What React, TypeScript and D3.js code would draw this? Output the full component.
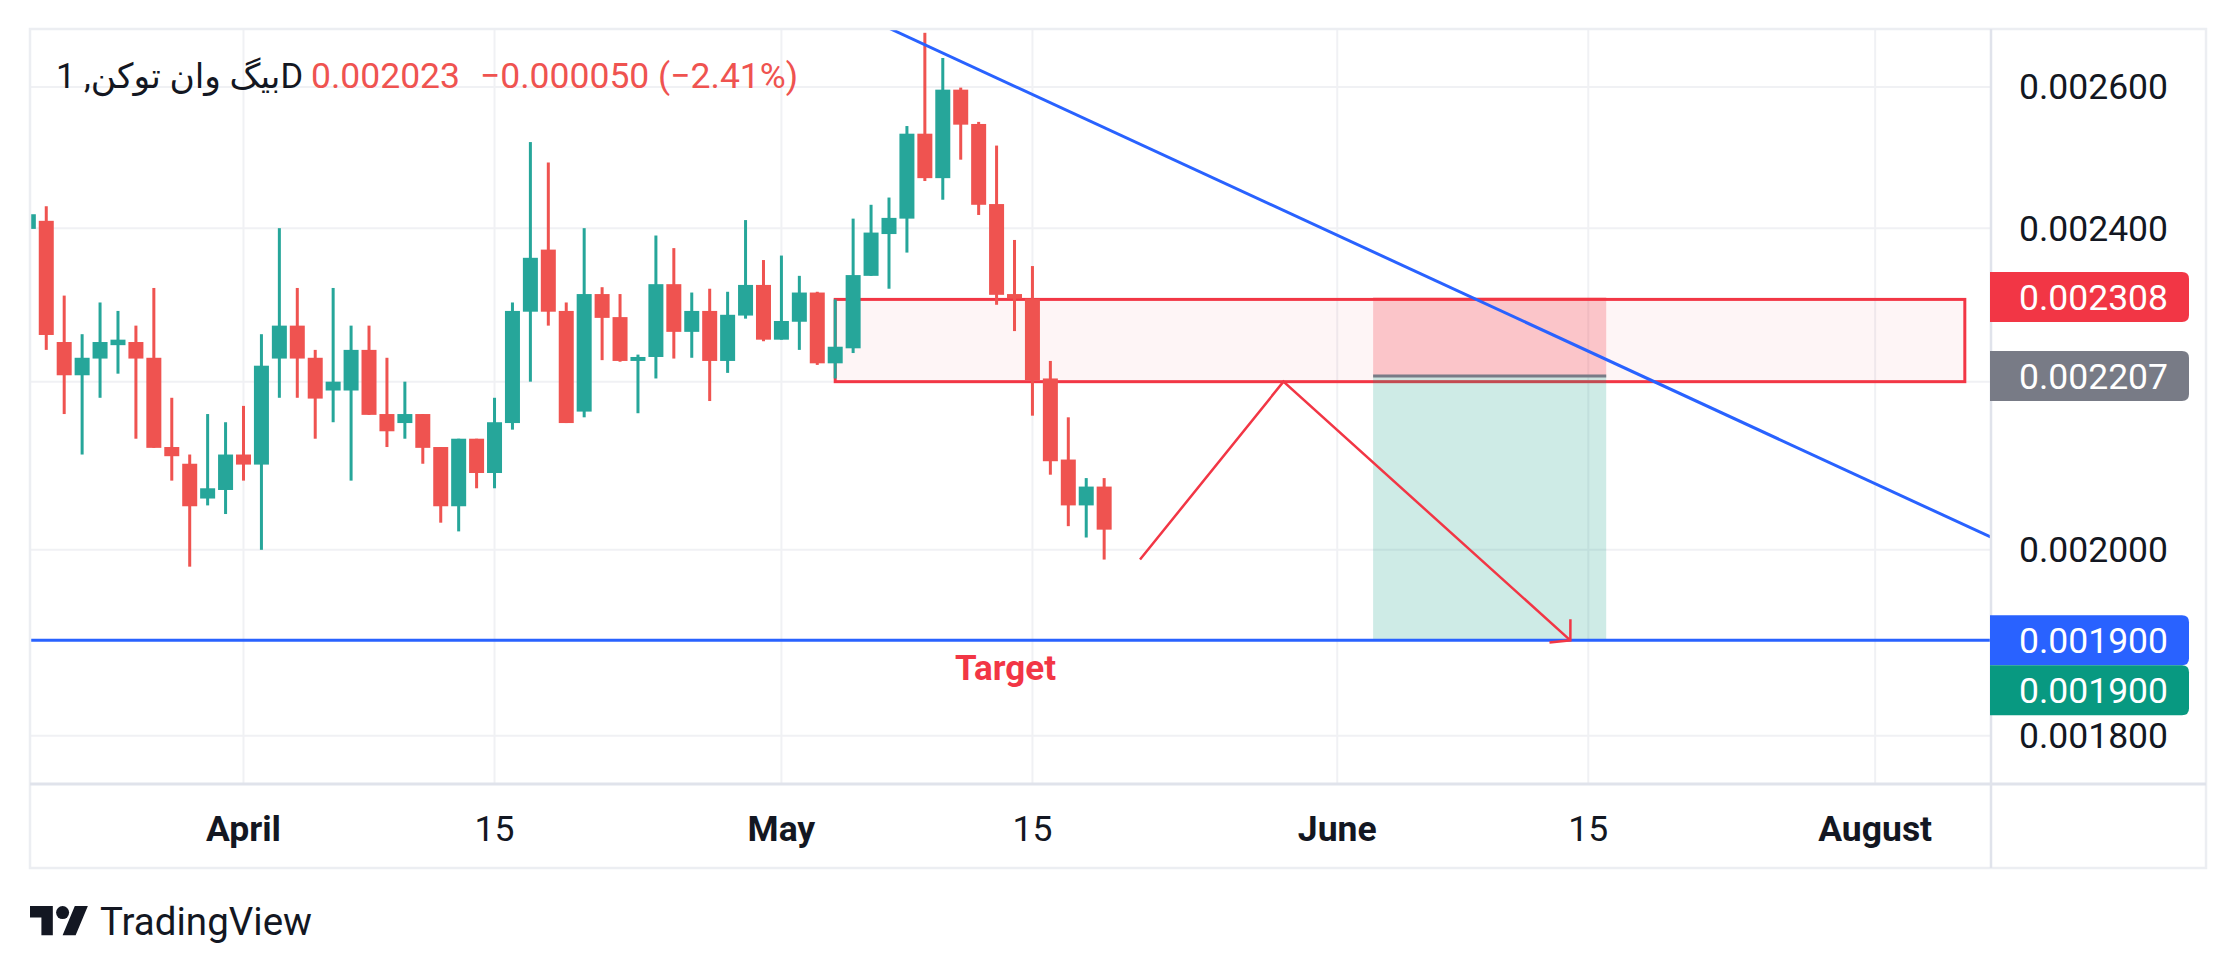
import { useEffect, useRef } from 'react';
import * as d3 from 'd3';

// 헤더 텍스트
const symbolName = 'بیگ وان توکن, 1D';
const lastPriceText = '0.002023';
const changeText = '−0.000050 (−2.41%)';

// 일봉 데이터 (2025-03-20 부터 하루 간격)
const firstCandle = '2025-03-20T00:00:00Z';
const opens = [
  0.002399, 0.002410, 0.002250, 0.002208, 0.002229, 0.002246, 0.002250, 0.002230, 0.002120, 0.002100,
  0.002059, 0.002069, 0.002111, 0.002099, 0.002229, 0.002271, 0.002230, 0.002189, 0.002189, 0.002240,
  0.002160, 0.002149, 0.002160, 0.002120, 0.002050, 0.002130, 0.002089, 0.002149, 0.002289, 0.002371,
  0.002290, 0.002163, 0.002312, 0.002282, 0.002226, 0.002231, 0.002325, 0.002263, 0.002290, 0.002226,
  0.002284, 0.002324, 0.002253, 0.002276, 0.002314, 0.002223, 0.002242, 0.002336, 0.002392, 0.002413,
  0.002532, 0.002469, 0.002596, 0.002546, 0.002433, 0.002312, 0.002306, 0.002204, 0.002105, 0.002051,
  0.002073,
];
const highs = [
  0.002419, 0.002430, 0.002310, 0.002260, 0.002301, 0.002290, 0.002271, 0.002320, 0.002180, 0.002111,
  0.002160, 0.002150, 0.002170, 0.002260, 0.002400, 0.002320, 0.002240, 0.002320, 0.002271, 0.002271,
  0.002230, 0.002200, 0.002160, 0.002120, 0.002130, 0.002130, 0.002180, 0.002301, 0.002520, 0.002491,
  0.002301, 0.002400, 0.002321, 0.002312, 0.002234, 0.002390, 0.002373, 0.002314, 0.002319, 0.002315,
  0.002411, 0.002357, 0.002363, 0.002336, 0.002315, 0.002305, 0.002413, 0.002432, 0.002442, 0.002543,
  0.002681, 0.002643, 0.002599, 0.002549, 0.002515, 0.002384, 0.002349, 0.002226, 0.002156, 0.002083,
  0.002083,
];
const lows = [
  0.002399, 0.002240, 0.002160, 0.002111, 0.002180, 0.002210, 0.002130, 0.002119, 0.002080, 0.001981,
  0.002051, 0.002041, 0.002080, 0.002000, 0.002180, 0.002180, 0.002130, 0.002150, 0.002080, 0.002159,
  0.002120, 0.002130, 0.002100, 0.002031, 0.002021, 0.002071, 0.002071, 0.002141, 0.002200, 0.002271,
  0.002149, 0.002156, 0.002227, 0.002225, 0.002161, 0.002204, 0.002229, 0.002230, 0.002176, 0.002211,
  0.002280, 0.002251, 0.002253, 0.002240, 0.002221, 0.002204, 0.002236, 0.002336, 0.002319, 0.002367,
  0.002465, 0.002439, 0.002495, 0.002418, 0.002298, 0.002264, 0.002158, 0.002087, 0.002027, 0.002014,
  0.001989,
];
const closes = [
  0.002419, 0.002259, 0.002208, 0.002230, 0.002250, 0.002253, 0.002229, 0.002119, 0.002109, 0.002050,
  0.002071, 0.002111, 0.002099, 0.002220, 0.002271, 0.002229, 0.002179, 0.002200, 0.002240, 0.002159,
  0.002139, 0.002160, 0.002119, 0.002050, 0.002130, 0.002089, 0.002150, 0.002290, 0.002360, 0.002289,
  0.002149, 0.002312, 0.002281, 0.002226, 0.002231, 0.002325, 0.002263, 0.002290, 0.002226, 0.002285,
  0.002324, 0.002253, 0.002277, 0.002314, 0.002223, 0.002244, 0.002337, 0.002394, 0.002414, 0.002532,
  0.002469, 0.002596, 0.002545, 0.002432, 0.002311, 0.002306, 0.002202, 0.002103, 0.002051, 0.002073,
  0.002023,
];

// 축 눈금
const priceTicks = [0.0018, 0.002, 0.0022, 0.0024, 0.0026];
const timeTickDates = ['2025-04-01', '2025-04-15', '2025-05-01', '2025-05-15', '2025-06-01', '2025-06-15', '2025-07-01'];
const timeTickLabels = ['April', '15', 'May', '15', 'June', '15', 'August'];
const timeTickBold = [true, false, true, false, true, false, true];

// 드로잉 도구
const trendDates = ['2025-05-07T00:00:00Z', '2025-07-07T12:00:00Z'];
const trendPrices = [0.002688, 0.002014];
const targetLinePrice = 0.0019;
const zoneDates = ['2025-05-04', '2025-07-06'];
const zonePrices = [0.0022, 0.002305];
const zigzagDates = ['2025-05-21', '2025-05-29', '2025-06-14'];
const zigzagPrices = [0.001989, 0.0022, 0.0019];
const positionDates = ['2025-06-03', '2025-06-16'];
const positionStop = 0.002308;
const positionEntry = 0.002207;
const positionTarget = 0.0019;
const targetLabelDate = '2025-05-13T12:00:00Z';

const UP = '#26A69A';
const DOWN = '#EF5350';
const RED = '#F23645';
const BLUE = '#2962FF';
const TEXT = '#131722';
const FONT = "Roboto, 'DejaVu Sans', sans-serif";

export default function App() {
  const svgRef = useRef<SVGSVGElement>(null);

  useEffect(() => {
    if (!svgRef.current) return;
    const svg = d3.select(svgRef.current);
    svg.selectAll('*').remove();

    const width = 2235;
    const height = 975;
    const pane = { left: 30, right: 1991, top: 29, bottom: 784 };
    const axisRight = 2206;
    const frameBottom = 868;
    const day = 864e5;
    const apr1 = Date.UTC(2025, 3, 1);

    svg.attr('width', width).attr('height', height);
    svg.append('rect').attr('width', width).attr('height', height).attr('fill', '#fff');

    const x = d3.scaleUtc()
      .domain([new Date(apr1 - 11.907 * day), new Date(apr1 + 97.46 * day)])
      .range([pane.left, pane.right]);
    const y = d3.scaleLog()
      .domain([0.0017514, 0.0026868])
      .range([pane.bottom, pane.top]);

    const candles = opens.map((o, i) => ({
      date: new Date(new Date(firstCandle).getTime() + i * day),
      open: o, high: highs[i], low: lows[i], close: closes[i],
    }));

    svg.append('clipPath').attr('id', 'pane-clip')
      .append('rect')
      .attr('x', pane.left).attr('y', pane.top)
      .attr('width', pane.right - pane.left).attr('height', pane.bottom - pane.top);

    // 그리드
    const grid = svg.append('g').attr('stroke', '#F0F1F4').attr('stroke-width', 2);
    grid.selectAll('.vg').data(timeTickDates).enter().append('line')
      .attr('x1', d => x(new Date(d))).attr('x2', d => x(new Date(d)))
      .attr('y1', pane.top).attr('y2', pane.bottom);
    grid.selectAll('.hg').data(priceTicks).enter().append('line')
      .attr('x1', pane.left).attr('x2', pane.right)
      .attr('y1', d => y(d)).attr('y2', d => y(d));

    const plot = svg.append('g').attr('clip-path', 'url(#pane-clip)');

    // 저항 구간 박스
    plot.append('rect')
      .attr('x', x(new Date(zoneDates[0])))
      .attr('y', y(zonePrices[1]))
      .attr('width', x(new Date(zoneDates[1])) - x(new Date(zoneDates[0])))
      .attr('height', y(zonePrices[0]) - y(zonePrices[1]))
      .attr('fill', 'rgba(242,54,69,0.05)')
      .attr('stroke', RED).attr('stroke-width', 3);

    // 숏 포지션 도구
    const px0 = x(new Date(positionDates[0]));
    const px1 = x(new Date(positionDates[1]));
    plot.append('rect')
      .attr('x', px0).attr('width', px1 - px0)
      .attr('y', y(positionStop)).attr('height', y(positionEntry) - y(positionStop))
      .attr('fill', 'rgba(242,54,69,0.25)');
    plot.append('rect')
      .attr('x', px0).attr('width', px1 - px0)
      .attr('y', y(positionEntry)).attr('height', y(positionTarget) - y(positionEntry))
      .attr('fill', 'rgba(8,153,129,0.2)');
    plot.append('line')
      .attr('x1', px0).attr('x2', px1)
      .attr('y1', y(positionEntry)).attr('y2', y(positionEntry))
      .attr('stroke', '#787B86').attr('stroke-width', 3);

    // 캔들
    const bodyW = 15;
    const cg = plot.append('g');
    cg.selectAll('.wick').data(candles).enter().append('rect')
      .attr('x', d => x(d.date) - 1.5).attr('width', 3)
      .attr('y', d => y(d.high))
      .attr('height', d => Math.max(1, y(d.low) - y(d.high)))
      .attr('fill', d => (d.close >= d.open ? UP : DOWN));
    cg.selectAll('.body').data(candles).enter().append('rect')
      .attr('x', d => x(d.date) - bodyW / 2).attr('width', bodyW)
      .attr('y', d => y(Math.max(d.open, d.close)))
      .attr('height', d => Math.max(2, Math.abs(y(d.open) - y(d.close))))
      .attr('fill', d => (d.close >= d.open ? UP : DOWN));

    // 목표 수평선
    plot.append('line')
      .attr('x1', pane.left).attr('x2', pane.right)
      .attr('y1', y(targetLinePrice)).attr('y2', y(targetLinePrice))
      .attr('stroke', BLUE).attr('stroke-width', 3);

    // 하락 추세선
    plot.append('line')
      .attr('x1', x(new Date(trendDates[0]))).attr('y1', y(trendPrices[0]))
      .attr('x2', x(new Date(trendDates[1]))).attr('y2', y(trendPrices[1]))
      .attr('stroke', BLUE).attr('stroke-width', 3);

    // 예상 경로 (지그재그 + 화살표)
    const zz = zigzagDates.map((d, i) => [x(new Date(d)), y(zigzagPrices[i])] as [number, number]);
    plot.append('path')
      .attr('d', d3.line()(zz))
      .attr('fill', 'none').attr('stroke', RED).attr('stroke-width', 2.5);
    const [tx, ty] = zz[zz.length - 1];
    const [sx, sy] = zz[zz.length - 2];
    const ang = Math.atan2(sy - ty, sx - tx);
    const headLen = 21;
    const head = [-0.84, 0.84].map(a => [tx + headLen * Math.cos(ang + a), ty + headLen * Math.sin(ang + a)]);
    plot.append('path')
      .attr('d', `M${head[0][0]},${head[0][1]}L${tx},${ty}L${head[1][0]},${head[1][1]}`)
      .attr('fill', 'none').attr('stroke', RED).attr('stroke-width', 2.5);

    plot.append('text')
      .attr('x', x(new Date(targetLabelDate)))
      .attr('y', y(targetLinePrice) + 40)
      .attr('text-anchor', 'middle')
      .attr('font-family', FONT).attr('font-size', 35).attr('font-weight', 700)
      .attr('fill', RED)
      .text('Target');

    // 테두리
    const frame = svg.append('g').attr('fill', 'none');
    frame.append('rect')
      .attr('x', pane.left).attr('y', pane.top)
      .attr('width', axisRight - pane.left).attr('height', frameBottom - pane.top)
      .attr('stroke', '#ECEEF2').attr('stroke-width', 2.5);
    frame.append('line')
      .attr('x1', pane.left).attr('x2', axisRight)
      .attr('y1', pane.bottom).attr('y2', pane.bottom)
      .attr('stroke', '#E0E3EB').attr('stroke-width', 3);
    frame.append('line')
      .attr('x1', pane.right).attr('x2', pane.right)
      .attr('y1', pane.top).attr('y2', frameBottom)
      .attr('stroke', '#E0E3EB').attr('stroke-width', 2.5);

    // 가격 라벨 (배지)
    const badgeH = 50;
    const badges = [
      { price: positionStop, fill: RED },
      { price: positionEntry, fill: '#787B86' },
      { price: targetLinePrice, fill: BLUE },
      { price: positionTarget, fill: '#089981' },
    ].map(b => ({ ...b, cy: y(b.price) }));
    for (let i = 1; i < badges.length; i++) {
      const prev = badges[i - 1];
      if (badges[i].cy - prev.cy < badgeH) badges[i].cy = prev.cy + badgeH;
    }

    const labelX = 2019;
    const axisText = svg.append('g')
      .attr('font-family', FONT).attr('font-size', 35.5).attr('fill', TEXT);
    axisText.selectAll('.pt')
      .data(priceTicks.filter(p => badges.every(b => Math.abs(b.cy - y(p)) > 40)))
      .enter().append('text')
      .attr('x', labelX).attr('y', d => y(d) + 12.5)
      .text(d => d3.format('.6f')(d));

    const bg = svg.append('g');
    badges.forEach(b => {
      const x0 = pane.right - 1;
      const x1 = 2189;
      const t = b.cy - badgeH / 2;
      const r = 7;
      bg.append('path')
        .attr('d', `M${x0},${t}H${x1 - r}Q${x1},${t} ${x1},${t + r}V${t + badgeH - r}Q${x1},${t + badgeH} ${x1 - r},${t + badgeH}H${x0}Z`)
        .attr('fill', b.fill);
      bg.append('text')
        .attr('x', labelX).attr('y', b.cy + 12.5)
        .attr('font-family', FONT).attr('font-size', 35.5).attr('fill', '#fff')
        .text(d3.format('.6f')(b.price));
    });

    // 시간축 라벨
    axisText.selectAll('.tt').data(timeTickDates).enter().append('text')
      .attr('x', d => x(new Date(d)))
      .attr('y', 841)
      .attr('text-anchor', 'middle')
      .attr('font-weight', (_, i) => (timeTickBold[i] ? 700 : 400))
      .text((_, i) => timeTickLabels[i]);

    // 헤더
    svg.append('text')
      .attr('x', 56).attr('y', 88)
      .attr('font-family', FONT).attr('font-size', 34.5).attr('fill', TEXT)
      .text(symbolName);
    svg.append('text')
      .attr('x', 311).attr('y', 88)
      .attr('font-family', FONT).attr('font-size', 35.5).attr('fill', DOWN)
      .text(lastPriceText);
    svg.append('text')
      .attr('x', 480).attr('y', 88)
      .attr('font-family', FONT).attr('font-size', 35.5).attr('fill', DOWN)
      .text(changeText);

    // TradingView 로고
    const logo = svg.append('g').attr('fill', TEXT);
    logo.append('g')
      .attr('transform', 'translate(30,899.5) scale(1.63)')
      .call(g => {
        g.append('path').attr('d', 'M14 22H7V11H0V4h14v18zM28 22h-8l7.5-18h8L28 22z');
        g.append('circle').attr('cx', 20).attr('cy', 8).attr('r', 4);
      });
    logo.append('text')
      .attr('x', 100).attr('y', 935)
      .attr('font-family', FONT).attr('font-size', 38.5)
      .text('TradingView');
  }, []);

  return (
    <div style={{ position: 'absolute', left: 0, top: 0, background: '#fff' }}>
      <svg ref={svgRef} style={{ display: 'block' }}></svg>
    </div>
  );
}
